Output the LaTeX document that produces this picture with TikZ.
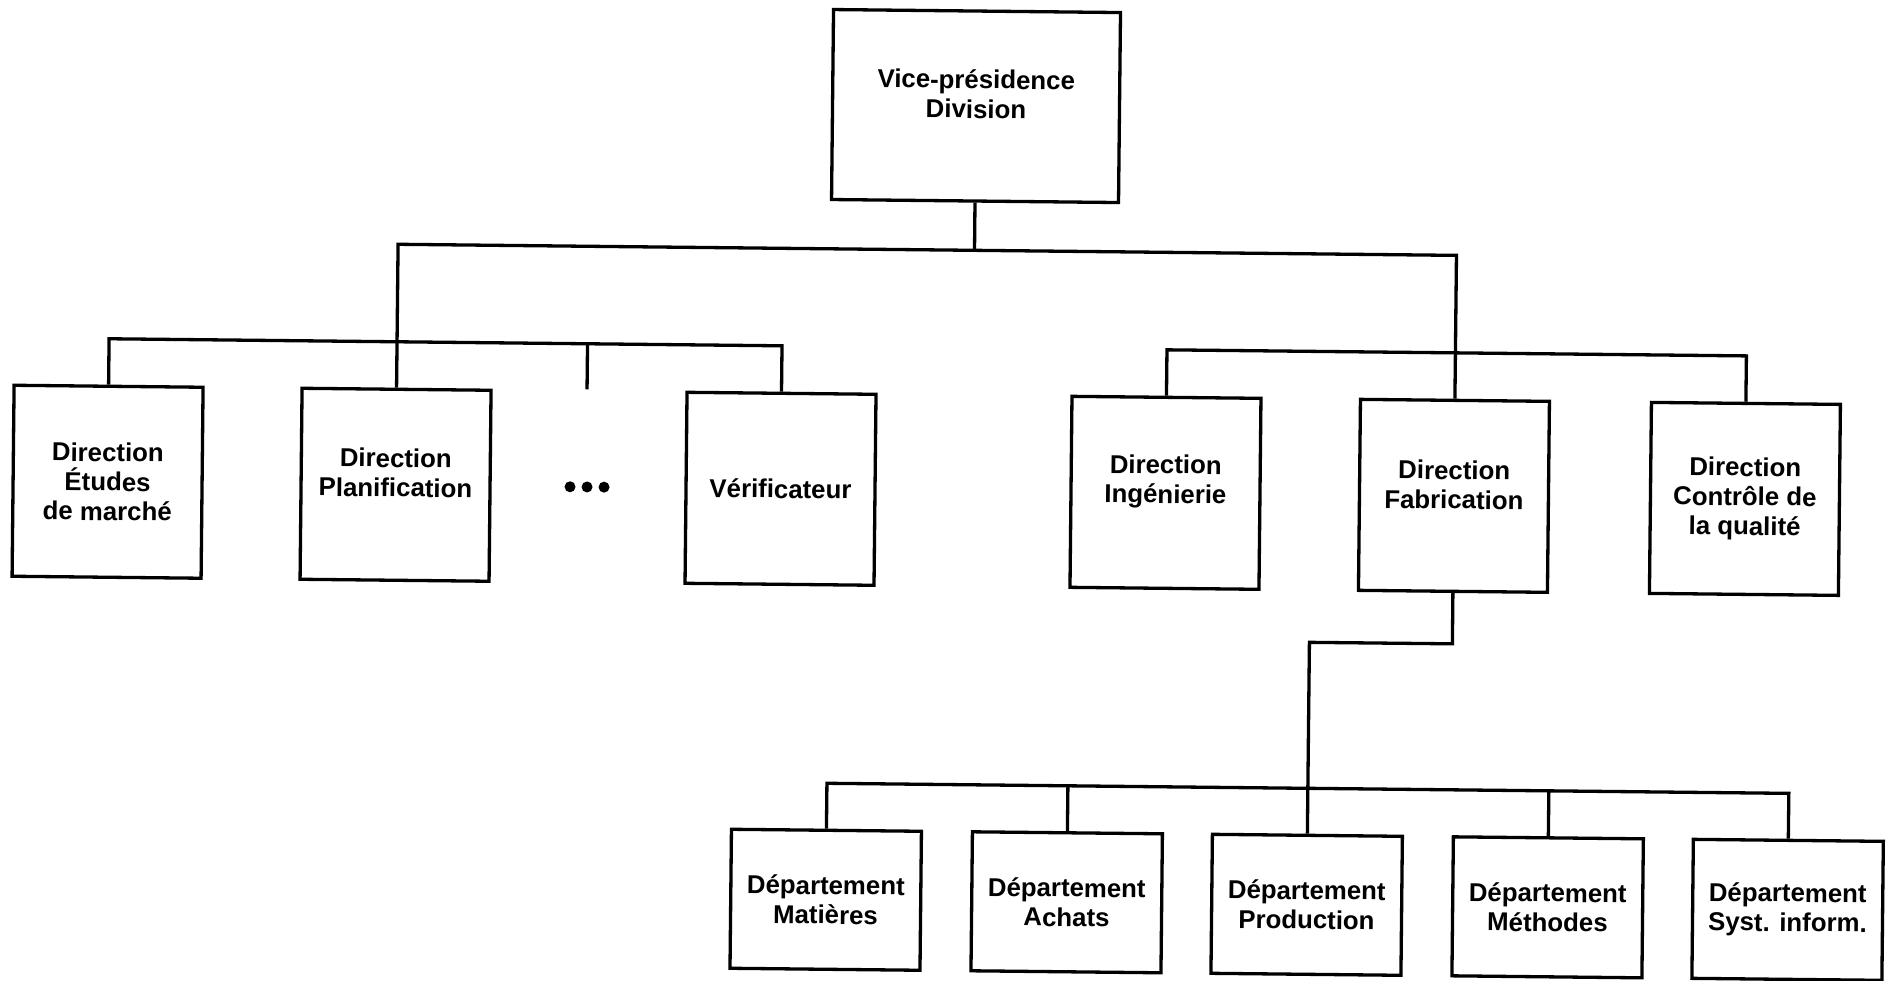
\documentclass[tikz,border=0pt]{standalone}
\usepackage{fontspec}
\setmainfont{Liberation Sans}
\begin{document}
\begin{tikzpicture}[x=1pt,y=-1pt,
  lbl/.style={align=center, inner sep=0pt, font=\fontsize{25.8}{29.5}\selectfont\bfseries},
  box/.style={lbl, draw, line width=3.3pt, minimum width=189pt, minimum height=191pt},
  vpbox/.style={box, minimum width=287pt, minimum height=190pt},
  dept/.style={box, minimum width=190pt, minimum height=139pt},
  conn/.style={line width=3.3pt, line join=miter}]
\fill[white] (0,0) rectangle (1889,980);
\useasboundingbox (0,0) rectangle (1889,980);
\begin{scope}[rotate around={-0.6:(944,490)}, transform shape]
% top
\node[vpbox] (vp) at (972,105.7) {};
\node[lbl] (vpt) at (972,93.7) {Vice-présidence\\Division};
% middle row
\node[box] (etu) at (107.5,490.5) {Direction\\Études\\de marché};
\node[box] (plan) at (395.5,490.5) {};
\node[lbl] (plant) at (395.5,478.5) {Direction\\Planification};
\node[box] (ver) at (780.5,490.5) {Vérificateur};
\node[box] (ing) at (1165.5,490.5) {};
\node[lbl] (ingt) at (1165.5,479.5) {Direction\\Ingénierie};
\node[box] (fab) at (1454,490.5) {};
\node[lbl] (fabt) at (1454,479.5) {Direction\\Fabrication};
\node[box] (qual) at (1745,490.5) {Direction\\Contrôle de\\la qualité};
% bottom row
\node[dept] (mat) at (830,901) {Département\\Matières};
\node[dept] (ach) at (1071,901) {Département\\Achats};
\node[dept] (prod) at (1311,901) {Département\\Production};
\node[dept] (meth) at (1552,901) {Département\\Méthodes};
\node[dept] (sys) at (1792,901) {Département\\Syst. inform.};
% dots
\fill (570,490.7) circle (5.5) (587,490.7) circle (5.5) (604,490.7) circle (5.5);
\coordinate (tick) at (586,393);
% connectors
\draw[conn] (vp.south) -- (972,250);
\draw[conn] (plan.north) -- (395.5,250) -- (1454,250) -- (fab.north);
\draw[conn] (etu.north) -- (107.5,347.5) -- (780.5,347.5) -- (ver.north);
\draw[conn] (586,347.5) -- (tick);
\draw[conn] (ing.north) -- (1165.5,347.5) -- (1745,347.5) -- (qual.north);
\draw[conn] (fab.south) -- (1454,638.5) -- (1311,638.5) -- (prod.north);
\draw[conn] (mat.north) -- (830,784.5) -- (1792,784.5) -- (sys.north);
\draw[conn] (ach.north) -- (1071,784.5);
\draw[conn] (meth.north) -- (1552,784.5);
\end{scope}
\end{tikzpicture}
\end{document}
